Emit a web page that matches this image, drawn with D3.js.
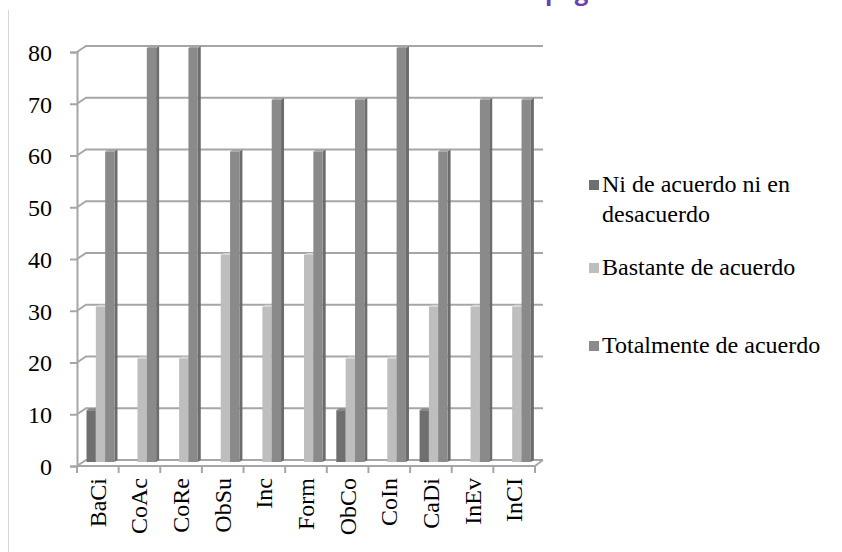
<!DOCTYPE html>
<html>
<head>
<meta charset="utf-8">
<script src="https://cdn.jsdelivr.net/npm/d3@7"></script>
<style>
  body { margin: 0; background: #fff; }
</style>
</head>
<body>
<script>
// categories on the x axis
var categories = ["BaCi", "CoAc", "CoRe", "ObSu", "Inc", "Form", "ObCo", "CoIn", "CaDi", "InEv", "InCI"];

// series names (legend)
var seriesNames = ["Ni de acuerdo ni en desacuerdo", "Bastante de acuerdo", "Totalmente de acuerdo"];

// values per series, same order as categories
var niDeAcuerdo = [10, 0, 0, 0, 0, 0, 10, 0, 10, 0, 0];
var bastante    = [30, 20, 20, 40, 30, 40, 20, 20, 30, 30, 30];
var totalmente  = [60, 80, 80, 60, 70, 60, 70, 80, 60, 70, 70];

var yTicks = [0, 10, 20, 30, 40, 50, 60, 70, 80];

var w = 842,
    h = 552;

var serif = "Liberation Serif, Times New Roman, serif";

// front / side colours per series
var fronts = ["#6f6f6f", "#bebebe", "#8a8a8a"],
    sides  = ["#555555", "#a2a2a2", "#6c6c6c"],
    tops   = ["#8a8a8a", "#d4d4d4", "#a4a4a4"];

// 3d depth offset of the back wall
var depthX = 9,
    depthY = -6;

var svg = d3.select("body")
            .append("svg")
            .attr("width", w)
            .attr("height", h);

// faint page border on the left
svg.append("line")
   .attr("x1", 8.5).attr("x2", 8.5)
   .attr("y1", 10).attr("y2", h)
   .attr("stroke", "#d6d6d6")
   .attr("stroke-width", 1);

// title, cut off by the top of the picture
svg.append("text")
   .attr("x", 545)
   .attr("y", 0)
   .attr("font-family", "Open Sans, sans-serif")
   .attr("font-weight", "bold")
   .attr("font-size", 24)
   .attr("fill", "#6a3fb3")
   .text("página");

// scales
var xScale = d3.scaleBand()
               .domain(categories)
               .range([77, 535])
               .padding(0);

var yScale = d3.scaleLinear()
               .domain([0, 80])
               .range([466, 52]);

var seriesScale = d3.scaleBand()
                    .domain([0, 1, 2])
                    .range([9.5, 37.5])
                    .padding(0);

// back wall gridlines with the slanted connectors
var grid = svg.append("g");
yTicks.forEach(function(t) {
    var y = yScale(t);
    grid.append("path")
        .attr("d", "M77," + y + "L" + (77 + depthX) + "," + (y + depthY) + "L543," + (y + depthY))
        .attr("fill", "none")
        .attr("stroke", "#a6a6a6")
        .attr("stroke-width", 2);
});

// floor: front edge and right slant
svg.append("path")
   .attr("d", "M77," + yScale(0) + "L535," + yScale(0) + "L543," + (yScale(0) + depthY))
   .attr("fill", "none")
   .attr("stroke", "#a6a6a6")
   .attr("stroke-width", 2);

// y axis
var yAxis = d3.axisLeft(yScale)
              .tickValues(yTicks)
              .tickSize(7)
              .tickPadding(18)
              .tickFormat(d3.format("d"));

var gy = svg.append("g")
            .attr("transform", "translate(77,0)")
            .call(yAxis)
            .attr("font-family", serif)
            .attr("font-size", 24);
gy.select(".domain").attr("stroke", "#a6a6a6").attr("stroke-width", 2);
gy.selectAll(".tick line").attr("stroke", "#a6a6a6").attr("stroke-width", 2);
gy.selectAll(".tick text")
  .attr("fill", "#000")
  .attr("dy", "0.35em");

// x axis ticks at category boundaries
var bounds = categories.map(function(c) { return xScale(c); });
bounds.push(xScale.range()[1]);
svg.append("g")
   .selectAll("line")
   .data(bounds)
   .enter()
   .append("line")
   .attr("x1", function(d) { return d; })
   .attr("x2", function(d) { return d; })
   .attr("y1", yScale(0))
   .attr("y2", yScale(0) + 7)
   .attr("stroke", "#a6a6a6")
   .attr("stroke-width", 2);

// rotated category labels
svg.append("g")
   .attr("font-family", serif)
   .attr("font-size", 24)
   .selectAll("text")
   .data(categories)
   .enter()
   .append("text")
   .attr("transform", function(d) {
       return "translate(" + (xScale(d) + xScale.bandwidth() / 2 + 8) + "," + (yScale(0) + 12) + ") rotate(-90)";
   })
   .attr("text-anchor", "end")
   .text(function(d) { return d; });

// bars
var seriesValues = [niDeAcuerdo, bastante, totalmente];
var barW = seriesScale.bandwidth(),
    sideW = 3,
    sideH = -2,
    barShift = -4;

var bars = svg.append("g");
categories.forEach(function(cat, i) {
    seriesValues.forEach(function(vals, s) {
        var v = vals[i];
        if (!v) return;
        var x0 = xScale(cat) + seriesScale(s),
            x1 = x0 + barW,
            yTop = yScale(v) + barShift,
            yBot = yScale(0) + barShift;

        // side face
        bars.append("path")
            .attr("d", "M" + x1 + "," + yTop + "L" + (x1 + sideW) + "," + (yTop + sideH) +
                       "L" + (x1 + sideW) + "," + (yBot + sideH) + "L" + x1 + "," + yBot + "Z")
            .attr("fill", sides[s]);
        // top face
        bars.append("path")
            .attr("d", "M" + x0 + "," + yTop + "L" + (x0 + sideW) + "," + (yTop + sideH) +
                       "L" + (x1 + sideW) + "," + (yTop + sideH) + "L" + x1 + "," + yTop + "Z")
            .attr("fill", tops[s]);
        // front face
        bars.append("rect")
            .attr("x", x0)
            .attr("y", yTop)
            .attr("width", barW)
            .attr("height", yBot - yTop)
            .attr("fill", fronts[s]);
    });
});

// legend
var legendRows = [
    { lines: ["Ni de acuerdo ni en", "desacuerdo"], y: 192 },
    { lines: ["Bastante de acuerdo"], y: 275 },
    { lines: ["Totalmente de acuerdo"], y: 353 }
];

var legend = svg.selectAll(".legend")
                .data(legendRows)
                .enter()
                .append("g")
                .attr("class", "legend")
                .attr("transform", function(d) { return "translate(589," + d.y + ")"; });

legend.append("rect")
      .attr("x", 0)
      .attr("y", -12)
      .attr("width", 10)
      .attr("height", 10)
      .attr("fill", function(d, i) { return fronts[i]; });

legend.append("text")
      .attr("font-family", serif)
      .attr("font-size", 24)
      .attr("fill", "#000")
      .selectAll("tspan")
      .data(function(d) { return d.lines; })
      .enter()
      .append("tspan")
      .attr("x", 13)
      .attr("y", function(d, i) { return i * 30; })
      .text(function(d) { return d; });
</script>
</body>
</html>
